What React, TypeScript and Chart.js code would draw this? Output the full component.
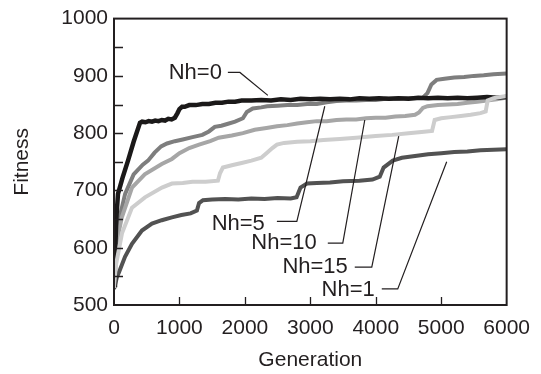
import React, { useEffect, useRef } from "react";
import { Chart, registerables } from "chart.js";

Chart.register(...registerables);

// ---- data ----
const nh0Gen = [0, 15, 35, 61, 130, 214, 300, 397, 430, 480, 530, 580, 630, 680, 730, 780, 830, 880, 930, 970, 1000, 1040, 1080, 1150, 1250, 1350, 1450, 1550, 1650, 1750, 1850, 1950, 2100, 2250, 2400, 2550, 2700, 2850, 3000, 3150, 3300, 3450, 3600, 3750, 3900, 4050, 4200, 4350, 4500, 4650, 4800, 4950, 5100, 5250, 5400, 5550, 5700, 5850, 6000];
const nh0Fit = [535, 580, 650, 694, 722, 752, 785, 818, 820, 819, 821, 820, 822, 821, 823, 822, 825, 824, 827, 835, 842, 846, 846, 849, 849, 851, 851, 853, 853, 855, 855, 857, 857, 858, 857, 859, 858, 860, 859, 860, 859, 860, 859, 861, 860, 861, 860, 861, 860, 862, 861, 862, 861, 862, 861, 862, 863, 862, 863];

const nh5Gen = [0, 30, 80, 170, 300, 440, 520, 620, 720, 810, 930, 1050, 1200, 1350, 1450, 1540, 1640, 1730, 1850, 1970, 2030, 2120, 2250, 2340, 2500, 2650, 2800, 2950, 3100, 3250, 3400, 3550, 3700, 3850, 4000, 4150, 4300, 4450, 4600, 4720, 4790, 4850, 4930, 5050, 5200, 5350, 5500, 5650, 5800, 6000];
const nh5Fit = [538, 600, 650, 694, 728, 745, 752, 766, 777, 782, 786, 789, 793, 797, 803, 811, 813, 816, 820, 826, 837, 843, 845, 847, 848, 849, 849, 851, 851, 854, 856, 857, 857, 858, 858, 860, 860, 861, 861, 862, 870, 885, 893, 895, 897, 898, 900, 901, 903, 904];

const nh10Gen = [0, 40, 120, 275, 470, 730, 885, 1000, 1150, 1300, 1470, 1600, 1800, 1970, 2150, 2330, 2490, 2650, 2800, 2950, 3100, 3250, 3400, 3550, 3700, 3850, 4000, 4150, 4300, 4450, 4600, 4660, 4720, 4790, 4950, 5100, 5250, 5400, 5550, 5700, 5850, 6000];
const nh10Fit = [535, 610, 653, 705, 728, 746, 755, 765, 774, 780, 786, 792, 796, 800, 806, 809, 812, 814, 817, 819, 821, 821, 823, 824, 824, 826, 827, 827, 829, 830, 832, 836, 844, 847, 849, 850, 851, 853, 855, 857, 859, 862];

const nh15Gen = [0, 30, 122, 275, 473, 733, 885, 1050, 1200, 1400, 1588, 1620, 1664, 1800, 1950, 2100, 2250, 2330, 2420, 2490, 2600, 2800, 3000, 3200, 3450, 3700, 4000, 4250, 4500, 4700, 4860, 4900, 5000, 5150, 5300, 5450, 5600, 5680, 5710, 5800, 5900, 6000];
const nh15Fit = [530, 570, 625, 670, 688, 705, 712, 713, 715, 715, 717, 730, 740, 744, 748, 752, 757, 765, 774, 780, 783, 785, 786, 788, 790, 792, 795, 797, 800, 802, 804, 823, 826, 828, 830, 832, 835, 838, 857, 861, 863, 865];

const nh1Gen = [0, 45, 72, 168, 275, 427, 580, 730, 885, 1030, 1170, 1267, 1300, 1360, 1500, 1700, 1900, 2100, 2300, 2500, 2700, 2790, 2850, 2950, 3100, 3300, 3500, 3750, 3950, 4061, 4120, 4260, 4400, 4600, 4800, 5000, 5200, 5400, 5600, 5800, 6000];
const nh1Fit = [528, 549, 556, 584, 607, 630, 642, 648, 653, 657, 660, 665, 678, 683, 684, 685, 684, 686, 685, 687, 686, 688, 705, 712, 713, 714, 716, 717, 719, 724, 740, 752, 757, 760, 763, 765, 767, 768, 770, 771, 772];

const xTicks = [0, 1000, 2000, 3000, 4000, 5000, 6000];
const yTicks = [500, 600, 700, 800, 900, 1000];

// annotation labels with leader lines (data coordinates)
const labelTexts = ["Nh=0", "Nh=5", "Nh=10", "Nh=15", "Nh=1"];
const labelAnchors = [
  [1649, 905],
  [2305, 642],
  [3099, 608],
  [3573, 566],
  [3985, 527],
];
const leaderPaths = [
  [[1740, 906], [1924, 906], [2351, 866]],
  [[2489, 646], [2794, 646], [3221, 847]],
  [[3267, 608], [3496, 608], [3832, 823]],
  [[3679, 566], [3939, 566], [4351, 795]],
  [[4092, 528], [4336, 528], [5084, 750]],
];

const INK = "#231f20";
const FONT = "'Liberation Sans', Arial, Helvetica, sans-serif";

function series(gen: number[], fit: number[]) {
  return gen.map((g, i) => ({ x: g, y: fit[i] }));
}

const framePlugin = {
  id: "frameAndTicks",
  afterDatasetsDraw(chart: any) {
    const { ctx, chartArea: a, scales } = chart;
    const xs = scales.x;
    const ys = scales.y;
    ctx.save();
    // inward tick marks
    ctx.strokeStyle = INK;
    ctx.lineWidth = 1.3;
    ctx.beginPath();
    for (let g = 1000; g < 6000; g += 1000) {
      const px = Math.round(xs.getPixelForValue(g)) + 0.5;
      ctx.moveTo(px, a.bottom);
      ctx.lineTo(px, a.bottom - 8);
    }
    for (let v = 550; v < 1000; v += 50) {
      const py = Math.round(ys.getPixelForValue(v)) + 0.5;
      ctx.moveTo(a.left, py);
      ctx.lineTo(a.left + 9, py);
    }
    ctx.stroke();
    // frame
    ctx.lineWidth = 2;
    ctx.strokeRect(a.left, a.top, a.right - a.left, a.bottom - a.top);

    // leader lines
    ctx.lineWidth = 1.2;
    leaderPaths.forEach((path) => {
      ctx.beginPath();
      path.forEach(([g, v], i) => {
        const px = xs.getPixelForValue(g);
        const py = ys.getPixelForValue(v);
        if (i === 0) ctx.moveTo(px, py);
        else ctx.lineTo(px, py);
      });
      ctx.stroke();
    });
    // labels
    ctx.fillStyle = INK;
    ctx.font = `22px ${FONT}`;
    ctx.textAlign = "right";
    ctx.textBaseline = "middle";
    labelTexts.forEach((t, i) => {
      const [g, v] = labelAnchors[i];
      ctx.fillText(t, xs.getPixelForValue(g), ys.getPixelForValue(v));
    });
    ctx.restore();
  },
};

export default function App() {
  const ref = useRef<HTMLCanvasElement | null>(null);
  useEffect(() => {
    if (!ref.current) return;
    const mk = (label: string, gen: number[], fit: number[], color: string, order: number, width: number) => ({
      label,
      data: series(gen, fit),
      borderColor: color,
      backgroundColor: color,
      borderWidth: width,
      pointRadius: 0,
      tension: 0,
      fill: false,
      order,
    });
    const chart = new Chart(ref.current, {
      type: "line",
      data: {
        datasets: [
          mk("Nh=1", nh1Gen, nh1Fit, "#525252", 4, 4),
          mk("Nh=5", nh5Gen, nh5Fit, "#7e7e7e", 3, 4),
          mk("Nh=10", nh10Gen, nh10Fit, "#a6a6a6", 2, 4),
          mk("Nh=0", nh0Gen, nh0Fit, "#1b1919", 1, 4.5),
          mk("Nh=15", nh15Gen, nh15Fit, "#cdcdcd", 0, 4),
        ],
      },
      options: {
        animation: false,
        responsive: false,
        devicePixelRatio: 1,
        layout: { padding: { top: 17, right: 34, left: 0, bottom: 0 } },
        plugins: { legend: { display: false }, tooltip: { enabled: false } },
        scales: {
          x: {
            type: "linear",
            min: 0,
            max: 6000,
            afterBuildTicks: (s: any) => {
              s.ticks = xTicks.map((v) => ({ value: v }));
            },
            afterFit: (s: any) => {
              s.height = 69;
            },
            grid: { display: false, drawTicks: false },
            border: { display: false },
            ticks: {
              color: INK,
              font: { family: FONT, size: 21 },
              padding: 11,
              maxRotation: 0,
              callback: (v: any) => String(v),
            },
            title: {
              display: true,
              text: "Generation",
              color: INK,
              font: { family: FONT, size: 21 },
              padding: { top: 0, bottom: 1 },
            },
          },
          y: {
            type: "linear",
            min: 500,
            max: 1000,
            afterBuildTicks: (s: any) => {
              s.ticks = yTicks.map((v) => ({ value: v }));
            },
            afterFit: (s: any) => {
              s.width = 114;
            },
            grid: { display: false, drawTicks: false },
            border: { display: false },
            ticks: {
              color: INK,
              font: { family: FONT, size: 21 },
              padding: 6,
              callback: (v: any) => String(v),
            },
            title: {
              display: true,
              text: "Fitness",
              color: INK,
              font: { family: FONT, size: 21 },
              padding: { top: 10, bottom: 0 },
            },
          },
        },
      },
      plugins: [framePlugin],
    });
    return () => chart.destroy();
  }, []);
  return (
    <div style={{ position: "fixed", left: 0, top: 0, width: 541, height: 374, background: "#fff" }}>
      <canvas ref={ref} width={541} height={374} style={{ display: "block" }} />
    </div>
  );
}
